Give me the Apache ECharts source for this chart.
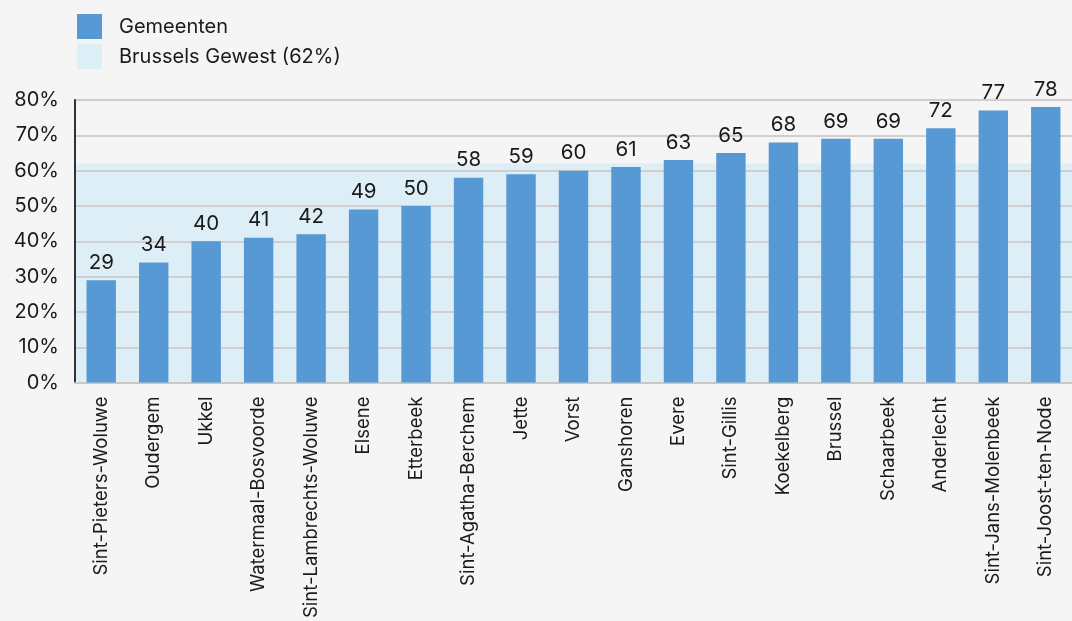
<!DOCTYPE html>
<html>
<head>
<meta charset="utf-8">
<script src="https://cdn.jsdelivr.net/npm/echarts@6/dist/echarts.min.js"></script>
<style>
  html, body { margin: 0; padding: 0; background: #f5f5f5; }
  #chart { width: 1072px; height: 621px; }
</style>
</head>
<body>
<div id="chart"></div>
<script>
var gemeenten = ['Sint-Pieters-Woluwe', 'Oudergem', 'Ukkel', 'Watermaal-Bosvoorde', 'Sint-Lambrechts-Woluwe',
    'Elsene', 'Etterbeek', 'Sint-Agatha-Berchem', 'Jette', 'Vorst', 'Ganshoren', 'Evere', 'Sint-Gillis',
    'Koekelberg', 'Brussel', 'Schaarbeek', 'Anderlecht', 'Sint-Jans-Molenbeek', 'Sint-Joost-ten-Node'];
var waarden = [29, 34, 40, 41, 42, 49, 50, 58, 59, 60, 61, 63, 65, 68, 69, 69, 72, 77, 78];
var gewest = 62;
var yTicks = [0, 10, 20, 30, 40, 50, 60, 70, 80];

var font = 'Inter';

var myChart = echarts.init(document.getElementById('chart'));
var option = {
    backgroundColor: '#f5f5f5',
    animation: false,
    textStyle: { fontFamily: font },
    legend: {
        orient: 'vertical',
        left: 72,
        top: 9,
        itemWidth: 25,
        itemHeight: 25,
        itemGap: 5,
        icon: 'rect',
        textStyle: { fontSize: 20, color: '#1a1a1a', fontFamily: font, padding: [0, 0, 0, 12] },
        data: ['Gemeenten', 'Brussels Gewest (' + gewest + '%)']
    },
    grid: { left: 75, right: -12, top: 100, bottom: 238 },
    xAxis: {
        type: 'category',
        data: gemeenten,
        z: 2,
        axisLine: { show: true, lineStyle: { color: '#c8c8c8', width: 2 } },
        axisTick: { show: false },
        axisLabel: {
            rotate: 90,
            margin: 14,
            fontSize: 18.5,
            color: '#1a1a1a',
            interval: 0
        }
    },
    yAxis: {
        type: 'value',
        min: yTicks[0],
        max: yTicks[yTicks.length - 1],
        interval: 10,
        z: 2,
        axisLine: { show: true, lineStyle: { color: '#333', width: 2 } },
        axisTick: { show: false },
        axisLabel: { formatter: '{value}%', fontSize: 20, color: '#1a1a1a', margin: 16 },
        splitLine: { lineStyle: { color: '#cfcfcf', width: 2 } }
    },
    series: [{
        name: 'Gemeenten',
        type: 'bar',
        data: waarden,
        barWidth: '56%',
        z: 3,
        itemStyle: { color: '#5699d4' },
        label: { show: true, position: 'top', distance: 7, fontSize: 20.5, color: '#1a1a1a' }
    }, {
        name: 'Brussels Gewest (' + gewest + '%)',
        type: 'line',
        data: [],
        z: 1,
        itemStyle: { color: '#ddeef6' },
        markArea: {
            silent: true,
            z: 1,
            itemStyle: { color: '#ddeef6' },
            data: [[{ yAxis: 0 }, { yAxis: gewest }]]
        }
    }]
};
myChart.setOption(option);
</script>
</body>
</html>
